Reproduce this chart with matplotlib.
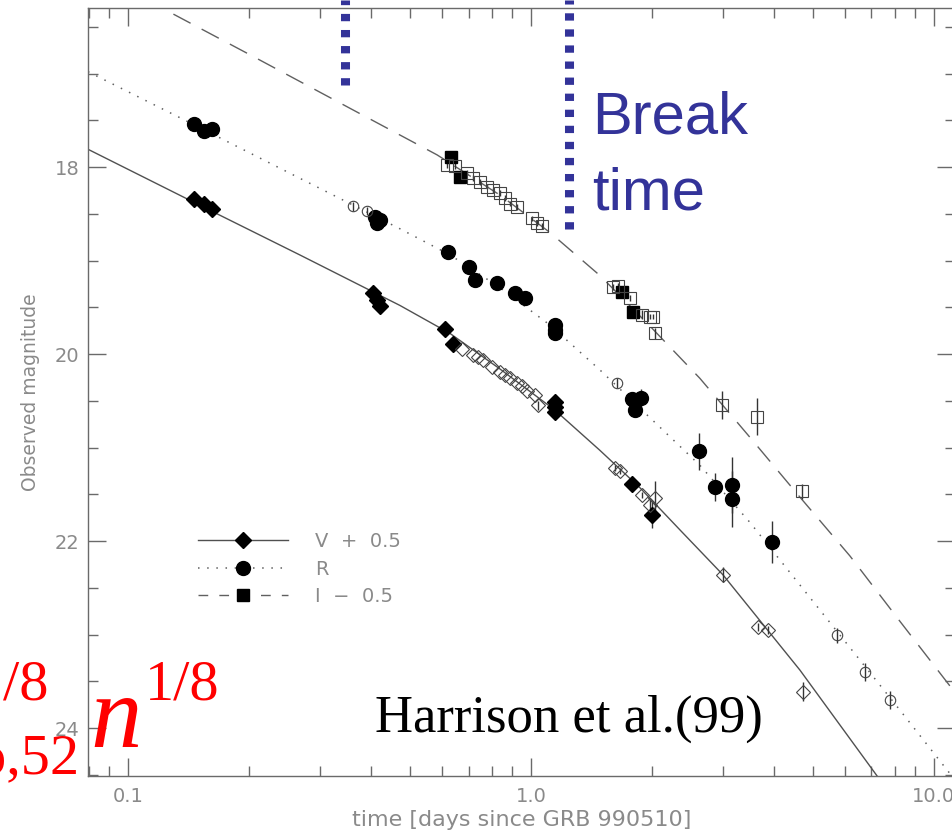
import numpy as np
import matplotlib
matplotlib.use("Agg")
import matplotlib.pyplot as plt
from matplotlib.lines import Line2D
from matplotlib.ticker import FixedLocator, FixedFormatter, LogLocator, MultipleLocator, NullFormatter

# --- light curve of GRB 990510: V+0.5 (diamonds), R (circles), I-0.5 (squares)
# filled = one data set, open = the other; days since burst, magnitude, 1-sigma
t_v_fill = [0.146, 0.154, 0.162, 0.405, 0.415, 0.422, 0.612, 0.640, 1.147, 1.147, 1.147, 1.781, 1.996]
m_v_fill = [18.34, 18.39, 18.45, 19.35, 19.42, 19.49, 19.73, 19.89, 20.51, 20.57, 20.62, 21.39, 21.72]
e_v_fill = [0, 0, 0, 0, 0, 0, 0, 0, 0.05, 0.05, 0.08, 0.05, 0.14]

t_v_open = [0.674, 0.718, 0.739, 0.760, 0.800, 0.838, 0.862, 0.887, 0.923, 0.950, 0.977, 1.023, 1.041,
            1.616, 1.663, 1.885, 2.032, 1.973, 2.994, 3.657, 3.873, 4.73]
m_v_open = [19.95, 20.01, 20.03, 20.06, 20.14, 20.19, 20.22, 20.26, 20.31, 20.34, 20.39, 20.44, 20.55,
            21.22, 21.25, 21.51, 21.54, 21.61, 22.36, 22.92, 22.95, 23.61]
e_v_open = [0, 0, 0, 0, 0, 0, 0, 0, 0, 0, 0, 0, 0.05,
            0.03, 0.03, 0.03, 0.18, 0.05, 0.08, 0.04, 0.04, 0.10]

t_r_fill = [0.146, 0.154, 0.162, 0.410, 0.422, 0.415, 0.622, 0.702, 0.726, 0.823, 0.913, 0.966,
            1.147, 1.147, 1.147, 1.781, 1.875, 1.812, 2.611, 2.864, 3.155, 3.155, 3.963]
m_r_fill = [17.54, 17.61, 17.59, 18.53, 18.57, 18.60, 18.91, 19.07, 19.21, 19.24, 19.35, 19.40,
            19.69, 19.74, 19.78, 20.48, 20.47, 20.60, 21.04, 21.42, 21.40, 21.55, 22.01]
e_r_fill = [0, 0, 0, 0, 0, 0, 0, 0, 0, 0, 0, 0,
            0.05, 0.05, 0.05, 0, 0.10, 0.05, 0.20, 0.15, 0.30, 0.30, 0.22]

t_r_open = [0.362, 0.392, 1.634, 5.75, 6.74, 7.78]
m_r_open = [18.42, 18.47, 20.31, 23.01, 23.40, 23.70]
e_r_open = [0.05, 0.04, 0.05, 0.08, 0.10, 0.10]

t_i_fill = [0.633, 0.667, 1.682, 1.790]
m_i_fill = [17.89, 18.11, 19.34, 19.55]
e_i_fill = [0, 0, 0, 0]

t_i_open = [0.619, 0.648, 0.694, 0.718, 0.747, 0.778, 0.805, 0.838, 0.862, 0.887, 0.923, 1.006,
            1.035, 1.065, 1.597, 1.644, 1.761, 1.885, 1.973, 2.008, 2.032, 2.979, 3.637, 4.70]
m_i_open = [17.98, 17.99, 18.06, 18.12, 18.16, 18.21, 18.25, 18.28, 18.33, 18.39, 18.43, 18.55,
            18.60, 18.63, 19.28, 19.27, 19.40, 19.58, 19.60, 19.60, 19.78, 20.55, 20.67, 21.47]
e_i_open = [0.03, 0.03, 0.03, 0.03, 0.03, 0.03, 0.03, 0.03, 0.03, 0.03, 0.03, 0.03,
            0.03, 0.03, 0.03, 0.03, 0.03, 0.05, 0.03, 0.03, 0.06, 0.15, 0.20, 0.08]

# broken power-law fits
t_fit_v = [0.0796, 0.151, 0.267, 0.473, 0.630, 0.838, 1.147, 1.483, 1.864, 2.342, 2.994, 4.65,
           7.22, 7.8]
m_fit_v = [17.81, 18.41, 18.94, 19.48, 19.78, 20.16, 20.60, 21.03, 21.43, 21.88, 22.36, 23.38,
           24.51, 24.70]
t_fit_r = [0.0796, 0.151, 0.267, 0.473, 0.630, 0.838, 1.115, 1.483, 1.973, 2.626, 3.494, 4.65,
           6.19, 8.24, 10.65, 11.5]
m_fit_r = [16.98, 17.58, 18.12, 18.66, 18.94, 19.29, 19.69, 20.17, 20.68, 21.19, 21.80, 22.47,
           23.14, 23.81, 24.42, 24.60]
t_fit_i = [0.0796, 0.1215, 0.201, 0.355, 0.585, 0.838, 1.115, 1.483, 1.973, 2.626, 3.494, 4.65,
           6.19, 8.24, 11.14, 11.5]
m_fit_i = [15.87, 16.30, 16.80, 17.37, 17.87, 18.30, 18.70, 19.16, 19.70, 20.26, 20.89, 21.53,
           22.16, 22.86, 23.59, 23.66]

band_labels = ["V  +  0.5", "R", "I  \u2212  0.5"]

# break-time markers: time, lower end (mag)
t_breaks = [0.3455, 1.245]
m_break_ends = [17.12, 18.66]

grey = "#6a6a6a"
txt_grey = "#8a8a8a"
blue = "#333399"


def fy(py):
    # figure fraction from a pixel row counted from the top
    return (833 - py) / 833


fig = plt.figure(figsize=(9.53, 8.33), dpi=100)
ax = fig.add_axes([88 / 953, 57 / 833, 867 / 953, 768 / 833])
ax.set_xscale("log")

ax.plot(t_fit_v, m_fit_v, "-", color="#505050", lw=1.0)
ax.plot(t_fit_r, m_fit_r, color="#606060", lw=1.1, ls=(0, (1, 5)))
ax.plot(t_fit_i, m_fit_i, color="#606060", lw=1.0, ls=(0, (14, 9)))

ebar = dict(ls="none", ecolor="#333333", elinewidth=1.0, capsize=0)
ax.errorbar(t_v_fill, m_v_fill, yerr=e_v_fill, marker="D", ms=8.5, mfc="k", mec="k", **ebar)
ax.errorbar(t_v_open, m_v_open, yerr=e_v_open, marker="D", ms=7, mfc="none", mec="#444444",
            mew=0.8, **ebar)
ax.errorbar(t_r_fill, m_r_fill, yerr=e_r_fill, marker="o", ms=10, mfc="k", mec="k", **ebar)
ax.errorbar(t_r_open, m_r_open, yerr=e_r_open, marker="o", ms=7.5, mfc="none", mec="#444444",
            mew=0.8, **ebar)
ax.errorbar(t_i_fill, m_i_fill, yerr=e_i_fill, marker="s", ms=9, mfc="k", mec="k", **ebar)
ax.errorbar(t_i_open, m_i_open, yerr=e_i_open, marker="s", ms=8, mfc="none", mec="#444444",
            mew=0.8, **ebar)

# axes
ax.set_xlim(0.0796, 11.28)
ax.set_ylim(24.513, 16.299)
ax.xaxis.set_major_locator(FixedLocator([0.1, 1.0, 10.0]))
ax.xaxis.set_major_formatter(FixedFormatter(["0.1", "1.0", "10.0"]))
ax.xaxis.set_minor_locator(LogLocator(base=10, subs=np.arange(2, 10)))
ax.xaxis.set_minor_formatter(NullFormatter())
ax.yaxis.set_major_locator(MultipleLocator(2))
ax.yaxis.set_minor_locator(MultipleLocator(0.5))
ax.tick_params(which="both", direction="in", top=True, right=True, color=grey, width=1.0,
               labelcolor=txt_grey, labelsize=14)
ax.tick_params(which="major", length=13)
ax.tick_params(which="minor", length=7)
ax.tick_params(axis="x", pad=8)
ax.tick_params(axis="y", pad=6)
for s in ax.spines.values():
    s.set_color(grey)
    s.set_linewidth(1.0)
ax.set_xlabel("time [days since GRB 990510]", color=txt_grey, fontsize=16, labelpad=3)
ax.set_ylabel("Observed magnitude", color=txt_grey, fontsize=13.5, labelpad=11)

handles = [
    Line2D([], [], color="#505050", lw=1.0, marker="D", ms=8.5, mfc="k", mec="k"),
    Line2D([], [], color="#606060", lw=1.1, ls=(0, (1, 5)), marker="o", ms=10, mfc="k", mec="k"),
    Line2D([], [], color="#606060", lw=1.0, ls=(0, (7, 8)), marker="s", ms=9, mfc="k", mec="k"),
]
leg = ax.legend(handles, band_labels, loc="center left", bbox_to_anchor=(0.127, 0.2695),
                frameon=False, fontsize=14, handlelength=4.6, handletextpad=1.4,
                labelspacing=0.45, borderpad=0, borderaxespad=0, numpoints=1)
for txt in leg.get_texts():
    txt.set_color(txt_grey)

# break-time indicators
for tb, mb in zip(t_breaks, m_break_ends):
    ax.plot([tb, tb], [mb, 16.214], color=blue, lw=6.5, ls=(0, (0.81, 0.97)),
            solid_capstyle="butt", dash_capstyle="butt", clip_on=False)

fig.text(592 / 953, fy(90), "Break\ntime", color=blue, fontsize=43,
         family="Liberation Sans", ha="left", va="top", linespacing=1.5)
fig.text(375 / 953, fy(732), "Harrison et al.(99)", color="black", fontsize=38,
         family="Liberation Serif", ha="left", va="baseline")

# jet-break scaling, E_iso,52^(-1/8) n^(1/8), running off the left edge
red_kw = dict(color="red", family="Liberation Serif", va="baseline")
fig.text(49 / 953, fy(700), "\u22121/8", fontsize=42, ha="right", **red_kw)
fig.text(80 / 953, fy(773), "iso,52", fontsize=42, ha="right", **red_kw)
fig.text(90 / 953, fy(747), "n", fontsize=74, style="italic", ha="left", **red_kw)
fig.text(145 / 953, fy(700), "1/8", fontsize=42, ha="left", **red_kw)

fig.savefig("out.png", dpi=100)
